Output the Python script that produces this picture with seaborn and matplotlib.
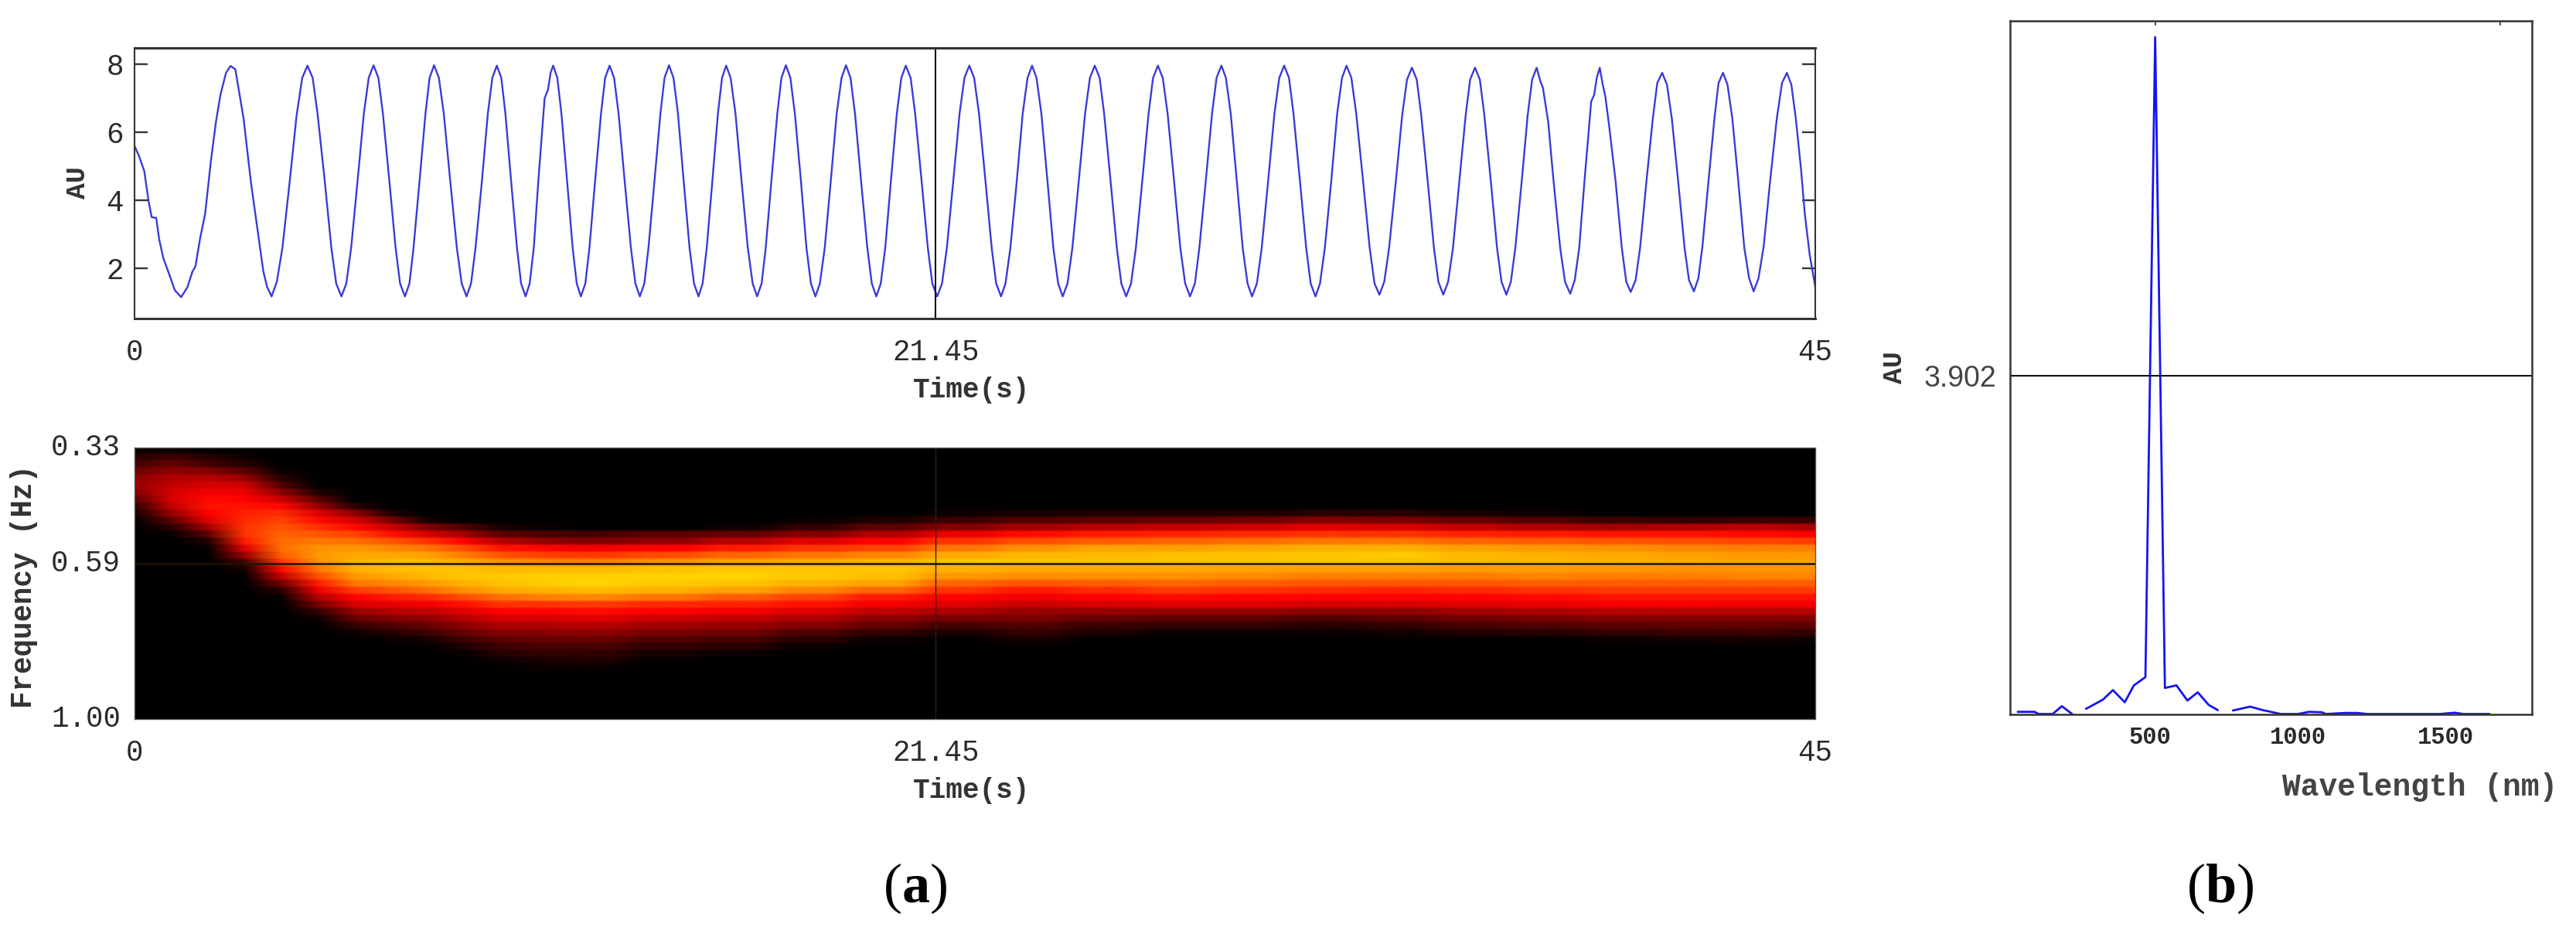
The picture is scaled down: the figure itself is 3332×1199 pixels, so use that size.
import numpy as np
import pandas as pd
import matplotlib
matplotlib.use("Agg")
import matplotlib.pyplot as plt
import seaborn as sns

W, H = 3332, 1199

# ---- top panel: AU over time ----
time_s = [
 0, .12, .26, .38, .46, .58, .66, .77, .92, 1.08, 1.25, 1.42, 1.55, 1.63, 1.76, 1.89, 2.05, 2.18, 2.30, 2.45, 2.57,
 2.70, 2.92, 3.12, 3.26, 3.45, 3.55, 3.67,
 3.81, 3.96, 4.15, 4.34, 4.49, 4.63,
 4.77, 4.90, 5.09, 5.27, 5.40, 5.54,
 5.67, 5.80, 5.97, 6.14, 6.27, 6.40,
 6.53, 6.65, 6.82, 6.99, 7.11, 7.24,
 7.36, 7.47, 7.63, 7.79, 7.90, 8.02,
 8.15, 8.28, 8.45, 8.63, 8.76, 8.89,
 9.01, 9.13, 9.30, 9.46, 9.58, 9.70,
 9.82, 9.93, 10.08, 10.24, 10.35, 10.47,
 10.58, 10.69, 10.81, 10.98, 11.07, 11.14, 11.21,
 11.32, 11.43, 11.58, 11.64, 11.73, 11.84, 11.95,
 12.07, 12.18, 12.33, 12.49, 12.60, 12.72,
 12.84, 12.96, 13.12, 13.29, 13.41, 13.53,
 13.65, 13.76, 13.92, 14.08, 14.19, 14.31,
 14.43, 14.55, 14.70, 14.86, 14.98, 15.10,
 15.21, 15.32, 15.47, 15.62, 15.73, 15.84,
 15.96, 16.09, 16.25, 16.42, 16.55, 16.67,
 16.79, 16.90, 17.05, 17.21, 17.32, 17.44,
 17.56, 17.68, 17.84, 17.99, 18.11, 18.23,
 18.35, 18.48, 18.64, 18.80, 18.93, 19.05,
 19.17, 19.29, 19.45, 19.62, 19.74, 19.86,
 19.98, 20.10, 20.25, 20.41, 20.53, 20.65,
 20.78, 20.90, 21.07, 21.24, 21.36, 21.49,
 21.62, 21.75, 21.92, 22.09, 22.22, 22.35,
 22.48, 22.61, 22.78, 22.95, 23.07, 23.20,
 23.32, 23.45, 23.62, 23.78, 23.91, 24.03,
 24.15, 24.28, 24.44, 24.60, 24.73, 24.85,
 24.98, 25.11, 25.28, 25.45, 25.58, 25.71,
 25.84, 25.96, 26.13, 26.30, 26.42, 26.55,
 26.68, 26.81, 26.98, 27.15, 27.27, 27.40,
 27.53, 27.66, 27.83, 28.00, 28.13, 28.26,
 28.39, 28.51, 28.68, 28.85, 28.97, 29.10,
 29.22, 29.35, 29.51, 29.67, 29.80, 29.92,
 30.05, 30.18, 30.35, 30.52, 30.65, 30.78,
 30.91, 31.03, 31.20, 31.37, 31.49, 31.62,
 31.74, 31.87, 32.04, 32.20, 32.33, 32.45,
 32.58, 32.71, 32.89, 33.07, 33.20, 33.33,
 33.46, 33.59, 33.77, 33.94, 34.07, 34.20,
 34.33, 34.45, 34.62, 34.79, 34.91, 35.04,
 35.17, 35.30, 35.47, 35.64, 35.76, 35.89,
 36.02, 36.14, 36.31, 36.48, 36.60, 36.73,
 36.85, 36.97, 37.14, 37.30, 37.42, 37.54,
 37.64, 37.71, 37.85, 37.99, 38.17, 38.30, 38.44,
 38.56, 38.68, 38.82, 39.00, 39.08, 39.15, 39.23,
 39.31, 39.38, 39.48, 39.65, 39.82, 39.94, 40.06,
 40.19, 40.31, 40.48, 40.65, 40.77, 40.90,
 41.03, 41.16, 41.33, 41.50, 41.62, 41.75,
 41.87, 41.98, 42.14, 42.30, 42.41, 42.53,
 42.65, 42.78, 42.94, 43.10, 43.23, 43.35,
 43.48, 43.62, 43.79, 43.97, 44.11, 44.24,
 44.36, 44.48, 44.62, 44.72, 44.85, 45.0,
]
au_signal = [
 5.6, 5.3, 4.86, 3.95, 3.5, 3.48, 2.85, 2.3, 1.85, 1.35, 1.15, 1.45, 1.9, 2.05, 2.9, 3.6, 5.2, 6.3, 7.1, 7.75, 7.95,
 7.85, 6.4, 4.5, 3.4, 1.9, 1.45, 1.17,
 1.6, 2.6, 4.5, 6.5, 7.6, 7.96,
 7.6, 6.55, 4.6, 2.6, 1.55, 1.17,
 1.55, 2.6, 4.55, 6.55, 7.6, 7.97,
 7.6, 6.55, 4.6, 2.6, 1.55, 1.17,
 1.55, 2.6, 4.55, 6.55, 7.6, 7.97,
 7.6, 6.55, 4.6, 2.6, 1.55, 1.17,
 1.55, 2.6, 4.55, 6.55, 7.6, 7.96,
 7.6, 6.55, 4.6, 2.6, 1.55, 1.17,
 1.55, 2.6, 4.55, 7.0, 7.25, 7.75, 7.96,
 7.6, 6.55, 4.6, 3.8, 2.6, 1.55, 1.17,
 1.55, 2.6, 4.55, 6.55, 7.6, 7.96,
 7.6, 6.55, 4.6, 2.6, 1.55, 1.17,
 1.55, 2.6, 4.55, 6.55, 7.6, 7.97,
 7.6, 6.55, 4.6, 2.6, 1.55, 1.17,
 1.55, 2.6, 4.55, 6.55, 7.6, 7.96,
 7.6, 6.55, 4.6, 2.6, 1.55, 1.17,
 1.55, 2.6, 4.55, 6.55, 7.6, 7.97,
 7.6, 6.55, 4.6, 2.6, 1.55, 1.17,
 1.55, 2.6, 4.55, 6.55, 7.6, 7.97,
 7.6, 6.55, 4.6, 2.6, 1.55, 1.17,
 1.55, 2.6, 4.55, 6.55, 7.6, 7.96,
 7.6, 6.55, 4.6, 2.6, 1.55, 1.17,
 1.55, 2.6, 4.55, 6.55, 7.6, 7.96,
 7.6, 6.55, 4.6, 2.6, 1.55, 1.17,
 1.55, 2.6, 4.55, 6.55, 7.6, 7.96,
 7.6, 6.55, 4.6, 2.6, 1.55, 1.17,
 1.55, 2.6, 4.55, 6.55, 7.6, 7.96,
 7.6, 6.55, 4.6, 2.6, 1.55, 1.17,
 1.55, 2.6, 4.55, 6.55, 7.6, 7.96,
 7.6, 6.55, 4.6, 2.6, 1.55, 1.17,
 1.55, 2.6, 4.55, 6.55, 7.6, 7.96,
 7.6, 6.55, 4.6, 2.6, 1.55, 1.17,
 1.55, 2.6, 4.55, 6.55, 7.6, 7.96,
 7.6, 6.55, 4.6, 2.6, 1.55, 1.17,
 1.55, 2.6, 4.55, 6.55, 7.6, 7.96,
 7.6, 6.55, 4.6, 2.6, 1.55, 1.22,
 1.6, 2.6, 4.55, 6.5, 7.55, 7.9,
 7.55, 6.5, 4.6, 2.6, 1.6, 1.22,
 1.6, 2.6, 4.55, 6.5, 7.55, 7.9,
 7.55, 6.5, 4.6, 2.6, 1.6, 1.22,
 1.6, 2.6, 4.55, 6.5, 7.55, 7.9,
 7.5, 7.3, 6.3, 4.6, 2.6, 1.6, 1.25,
 1.65, 2.6, 4.55, 6.9, 7.1, 7.6, 7.9,
 7.4, 7.05, 6.2, 4.6, 2.6, 1.6, 1.3,
 1.65, 2.6, 4.55, 6.4, 7.45, 7.75,
 7.4, 6.4, 4.55, 2.6, 1.65, 1.32,
 1.7, 2.65, 4.55, 6.4, 7.45, 7.75,
 7.4, 6.4, 4.55, 2.6, 1.7, 1.32,
 1.7, 2.65, 4.55, 6.4, 7.45, 7.75,
 7.4, 6.4, 4.9, 3.6, 2.4, 1.45,
]
time_marker = 21.45
au_ticks = [2, 4, 6, 8]
time_ticks = [0, 21.45, 45]
time_labels = ["0", "21.45", "45"]

# ---- bottom panel: intensity (0-100) per time column, rows run top to bottom ----
n_freq_rows = 39
col_first_row = [0, 0, 1, 1, 3, 6, 8, 9, 10, 11, 11, 11, 11,
                 12, 11, 10, 10, 9, 9, 9, 9, 9, 9, 9, 9, 9, 9, 10, 10, 10]
col_grid_steps = [1] * 12 + [2] * 17 + [1]
col_values = [
 [2, 8, 14, 22, 28, 30, 26, 18, 10, 4, 1],
 [3, 12, 20, 28, 34, 38, 42, 42, 38, 30, 18, 8, 2],
 [8, 14, 26, 36, 42, 48, 52, 54, 50, 44, 32, 18, 6, 1],
 [3, 8, 18, 30, 40, 46, 50, 54, 58, 60, 62, 62, 56, 44, 30, 14, 4, 1],
 [3, 8, 16, 28, 40, 52, 60, 66, 70, 74, 76, 76, 72, 64, 52, 38, 22, 8, 2],
 [6, 18, 30, 44, 52, 62, 70, 78, 84, 86, 84, 78, 68, 56, 46, 34, 22, 10, 3],
 [8, 28, 42, 52, 66, 76, 86, 90, 92, 92, 86, 78, 64, 50, 42, 30, 20, 10, 3, 1],
 [6, 24, 40, 54, 70, 82, 90, 94, 95, 90, 82, 70, 56, 46, 36, 26, 16, 8, 2],
 [5, 25, 42, 62, 78, 88, 94, 96, 94, 86, 76, 60, 48, 38, 28, 20, 12, 5, 1],
 [16, 32, 50, 68, 80, 90, 96, 97, 92, 84, 68, 54, 44, 36, 28, 20, 12, 6, 2],
 [5, 18, 36, 55, 70, 84, 94, 98, 96, 90, 76, 62, 50, 42, 34, 26, 18, 12, 8, 3, 1],
 [3, 16, 30, 52, 66, 82, 94, 99, 98, 92, 80, 62, 50, 42, 34, 26, 20, 14, 10, 5, 2],
 [1, 14, 26, 48, 64, 80, 94, 99, 100, 94, 82, 64, 52, 44, 36, 28, 20, 14, 10, 6, 2],
 [18, 28, 50, 68, 84, 96, 100, 98, 92, 78, 60, 50, 40, 32, 24, 16, 10, 5, 1],
 [3, 20, 36, 56, 74, 88, 97, 100, 96, 88, 72, 58, 48, 38, 30, 22, 14, 8, 3],
 [2, 10, 26, 44, 62, 78, 90, 97, 98, 92, 82, 66, 54, 44, 34, 26, 16, 8, 3],
 [6, 18, 34, 50, 66, 82, 92, 97, 95, 88, 74, 56, 48, 38, 28, 20, 10, 3],
 [3, 12, 26, 46, 62, 78, 90, 96, 92, 86, 74, 62, 50, 44, 34, 24, 14, 6, 1],
 [5, 16, 32, 52, 68, 84, 93, 96, 90, 84, 70, 56, 48, 40, 30, 24, 16, 10, 5, 1],
 [6, 18, 36, 56, 72, 88, 94, 96, 90, 84, 72, 60, 50, 42, 30, 20, 12, 6, 1],
 [6, 20, 38, 58, 74, 88, 95, 96, 90, 84, 74, 64, 52, 44, 30, 18, 10, 3],
 [6, 22, 40, 60, 76, 90, 96, 96, 89, 83, 72, 62, 50, 44, 30, 18, 10, 3],
 [8, 26, 44, 62, 78, 92, 97, 96, 88, 80, 70, 60, 50, 42, 28, 16, 8, 2],
 [8, 24, 42, 62, 78, 92, 98, 96, 88, 80, 70, 58, 50, 42, 28, 18, 10, 4, 1],
 [5, 20, 38, 58, 74, 88, 94, 94, 87, 80, 70, 60, 50, 44, 32, 22, 14, 7, 1],
 [3, 16, 34, 56, 72, 86, 92, 93, 87, 81, 72, 62, 52, 46, 34, 24, 16, 8, 1],
 [1, 12, 32, 54, 70, 84, 90, 92, 86, 80, 72, 64, 54, 48, 36, 26, 18, 10, 2],
 [10, 34, 54, 68, 82, 88, 90, 85, 80, 72, 64, 54, 48, 36, 26, 18, 12, 4],
 [12, 36, 52, 66, 80, 86, 88, 85, 81, 72, 64, 54, 47, 36, 26, 18, 12, 5, 1],
 [10, 32, 48, 64, 80, 86, 88, 85, 82, 72, 64, 54, 48, 36, 26, 18, 10, 2],
]
freq_labels = ["0.33", "0.59", "1.00"]
freq_marker_fraction = 0.427

# ---- right panel: AU over wavelength, drawn in three visible stretches ----
wl_a = [52, 109, 122, 170, 201, 236]
au_a = [.025, .025, 0, 0, .09, 0]
wl_b = [283, 340, 374, 414, 445, 484, 517, 550, 589, 626, 661, 698, 729]
au_b = [.06, .165, .275, .135, .33, .425, 7.80, .30, .33, .155, .25, .105, .045]
wl_c = [780, 838, 881, 942, 1000, 1038, 1081, 1095, 1160, 1200, 1235, 1270, 1480, 1530, 1560, 1649]
au_c = [.04, .085, .045, 0, 0, .025, .02, 0, .012, .012, 0, 0, 0, .015, 0, 0]
au_marker = 3.902
wl_labels = [500, 1000, 1500]
wl_minor_ticks = [250, 500, 750, 1000, 1250, 1500]
wl_top_ticks = [517, 1686]

sns.set_theme(style="white")
plt.rcParams["font.family"] = ["Liberation Mono", "DejaVu Sans"]
plt.rcParams["mathtext.fontset"] = "custom"
plt.rcParams["mathtext.bf"] = "Liberation Serif:bold"
plt.rcParams["mathtext.rm"] = "Liberation Serif"

fig = plt.figure(figsize=(W / 100, H / 100), dpi=100, facecolor="white")


def axes_px(left, top, right, bottom):
    return fig.add_axes([left / W, 1 - bottom / H, (right - left) / W, (bottom - top) / H])


TXT = "#2a2a2a"
SPINE = "#333333"
LINE_BLUE = "#3a3ad8"
TICK_FS = 27

# top panel
ax1 = axes_px(174, 62, 2348, 412)
sns.lineplot(x=time_s, y=au_signal, ax=ax1, color=LINE_BLUE, lw=1.7, estimator=None, sort=False)
ax1.set_xlim(0, 45)
ax1.set_ylim(0.52, 8.48)
ax1.axvline(time_marker, color="#111111", lw=1.5)
ax1.set_xticks(time_ticks, time_labels)
ax1.set_yticks(au_ticks)
ax1.tick_params(axis="x", length=0, pad=19, labelsize=TICK_FS, labelcolor=TXT)
ax1.tick_params(axis="y", direction="in", length=12, width=1.7, color=SPINE, left=True, right=True,
                pad=10, labelsize=TICK_FS, labelcolor=TXT)
for side, lw in zip(["top", "bottom", "left", "right"], [2.2, 2.2, 1.5, 1.5]):
    ax1.spines[side].set_visible(True)
    ax1.spines[side].set_color(SPINE)
    ax1.spines[side].set_linewidth(lw)
ax1.set_xlabel("Time(s)", fontsize=26, fontweight="bold", color="#333333", va="center")
ax1.xaxis.set_label_coords(1257 / W, 1 - 505 / H, transform=fig.transFigure)
ax1.set_ylabel("AU", fontsize=25, fontweight="bold", color="#333333", va="center")
ax1.yaxis.set_label_coords(100 / W, 1 - 236 / H, transform=fig.transFigure)

# bottom panel
columns = []
for first, vals in zip(col_first_row, col_values):
    col = np.zeros(n_freq_rows)
    col[first:first + len(vals)] = vals
    columns.append(col)
intensity = np.repeat(np.repeat(np.array(columns).T, col_grid_steps, axis=1), 3, axis=0)
n_rows, n_cols = intensity.shape
hot_cmap = sns.blend_palette(["#000000", "#ff0000", "#ffd200"], n_colors=256, as_cmap=True)

ax2 = axes_px(174, 579, 2348, 930)
sns.heatmap(pd.DataFrame(intensity), ax=ax2, cmap=hot_cmap, vmin=0, vmax=100, cbar=False,
            xticklabels=False, yticklabels=False, shading="gouraud")
ax2.set_xlim(0, n_cols - 1)
ax2.set_ylim(n_rows - 1, 0)
to_col = (n_cols - 1) / 45
ax2.axvline(time_marker * to_col, color="#222222", lw=1.0)
ax2.axhline(freq_marker_fraction * (n_rows - 1), color="#1a1200", lw=1.8)
ax2.set_xticks([t * to_col for t in time_ticks], time_labels, rotation=0)
ax2.set_yticks([0, freq_marker_fraction * (n_rows - 1), n_rows - 1], freq_labels, rotation=0, va="center")
ax2.tick_params(axis="x", length=0, pad=19, labelsize=TICK_FS, labelcolor=TXT)
ax2.tick_params(axis="y", length=0, pad=13, labelsize=TICK_FS, labelcolor=TXT)
for spine in ax2.spines.values():
    spine.set_visible(True)
    spine.set_color("#555555")
    spine.set_linewidth(1.0)
ax2.set_xlabel("Time(s)", fontsize=26, fontweight="bold", color="#333333", va="center")
ax2.xaxis.set_label_coords(1257 / W, 1 - 1023 / H, transform=fig.transFigure)
ax2.set_ylabel("Frequency (Hz)", fontsize=27, fontweight="bold", color="#333333", va="center")
ax2.yaxis.set_label_coords(31 / W, 1 - 758 / H, transform=fig.transFigure)

# right panel
ax3 = axes_px(2600, 27, 3275, 923.5)
for wl, au in [(wl_a, au_a), (wl_b, au_b), (wl_c, au_c)]:
    sns.lineplot(x=wl, y=au, ax=ax3, color="#1414f5", lw=2.0, estimator=None, sort=False)
ax3.set_xlim(26, 1792)
ax3.set_ylim(0, 7.987)
ax3.axhline(au_marker, color="#111111", lw=1.5)
ax3.set_xticks(wl_minor_ticks, [str(v) if v in wl_labels else "" for v in wl_minor_ticks])
ax3.set_yticks([au_marker], ["3.902"], family="Liberation Sans")
ax3.tick_params(axis="x", direction="in", length=8, width=1.2, color="#777777", pad=11,
                labelsize=22, labelcolor=TXT)
for lab in ax3.get_xticklabels():
    lab.set_fontweight("bold")
ax3.tick_params(axis="y", length=0, pad=13, labelsize=27, labelcolor="#444444")
top_axis = ax3.secondary_xaxis("top")
top_axis.set_xticks(wl_top_ticks, ["", ""])
top_axis.tick_params(axis="x", direction="in", length=4, width=1.2, color=SPINE)
top_axis.spines["top"].set_visible(False)
for side in ["top", "bottom", "left", "right"]:
    ax3.spines[side].set_visible(True)
    ax3.spines[side].set_color(SPINE)
    ax3.spines[side].set_linewidth(1.8)
ax3.set_xlabel("Wavelength (nm)", fontsize=28.5, fontweight="bold", color="#444444", va="center")
ax3.xaxis.set_label_coords(3130 / W, 1 - 1018 / H, transform=fig.transFigure)
ax3.set_ylabel("AU", fontsize=25, fontweight="bold", color="#333333", va="center")
ax3.yaxis.set_label_coords(2450 / W, 1 - 475 / H, transform=fig.transFigure)

fig.text(1184 / W, 1 - 1149 / H, r"($\mathbf{a}$)", family="Liberation Serif", fontsize=52,
         ha="center", va="center", color="black")
fig.text(2872 / W, 1 - 1149 / H, r"($\mathbf{b}$)", family="Liberation Serif", fontsize=52,
         ha="center", va="center", color="black")

fig.savefig("out.png", dpi=100, facecolor="white")
